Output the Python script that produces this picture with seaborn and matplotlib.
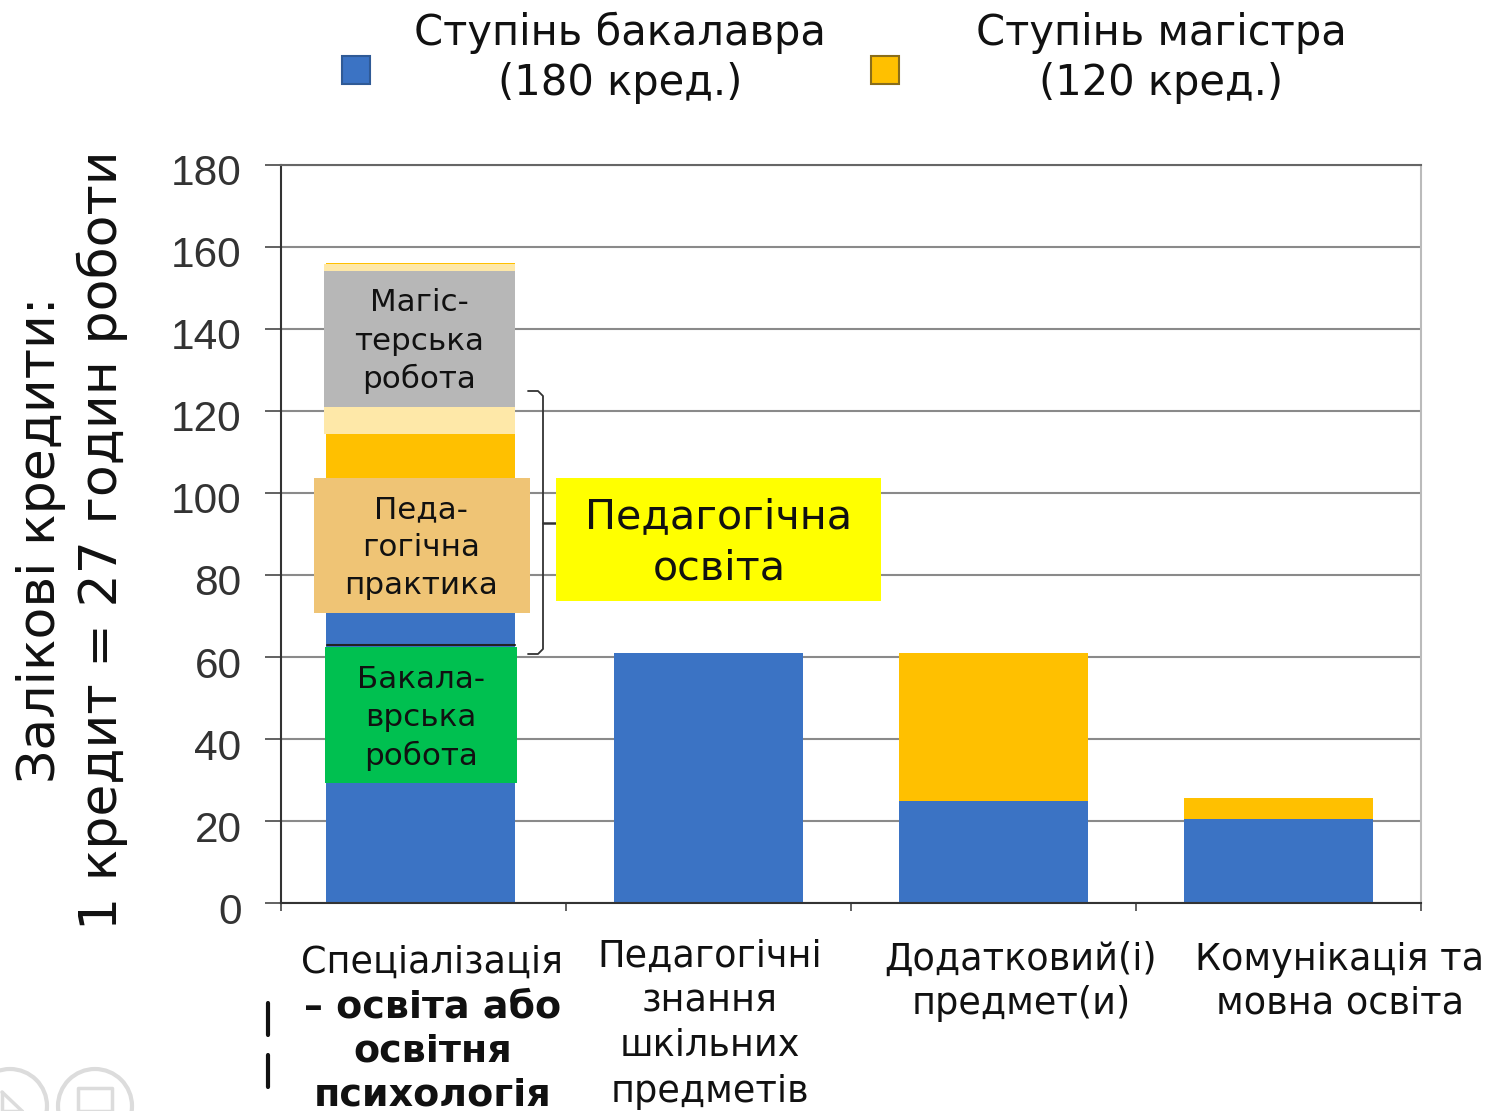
"""Залікові кредити за компонентами програми"""

import matplotlib
matplotlib.use("Agg")
import matplotlib.pyplot as plt
import pandas as pd
import seaborn as sns
from matplotlib.lines import Line2D
from matplotlib.patches import Circle, Patch, Rectangle
from matplotlib.transforms import ScaledTranslation

categories = ["Спеціалізація", "Педагогічні знання", "Додатковий(і) предмет(и)", "Комунікація та мовна освіта"]
bachelor = [75, 61, 25, 20.5]
master = [81, 0, 36, 5]
yticks = list(range(0, 181, 20))
legend_labels = ["Ступінь бакалавра\n(180 кред.)", "Ступінь магістра\n(120 кред.)"]
ylabel_text = "Залікові кредити:\n1 кредит = 27 годин роботи"

BLUE = "#3B73C4"
ORANGE = "#FFC000"
W, H = 1491, 1111

sns.set_theme(style="white")
plt.rcParams["font.family"] = ["DejaVu Sans"]

data = pd.DataFrame({"category": categories, "bachelor": bachelor, "master": master})
data["total"] = data["bachelor"] + data["master"]

fig = plt.figure(figsize=(W / 100, H / 100), dpi=100)
ax = fig.add_axes([281 / W, 1 - 903 / H, 1140 / W, 738 / H])


def fx(x):
    return x / W


def fy(y):
    return 1 - y / H


def box(x0, y0, x1, y1, color, z=3):
    fig.add_artist(Rectangle((fx(x0), fy(y1)), (x1 - x0) / W, (y1 - y0) / H, transform=fig.transFigure,
                             facecolor=color, edgecolor="none", zorder=z))


def line(xs, ys, color="#333333", lw=1.3, z=3):
    fig.add_artist(Line2D([fx(x) for x in xs], [fy(y) for y in ys], transform=fig.transFigure,
                          color=color, lw=lw, zorder=z))


def label(x, y, text, size, weight="normal", color="#111111", z=4, **kw):
    fig.text(fx(x), fy(y), text, fontsize=size, fontweight=weight, color=color, ha="center", va="center",
             zorder=z, **kw)


def add_legend(handle, text, cx, pad):
    leg = fig.legend([handle], [text], frameon=False, fontsize=30, loc="center", bbox_to_anchor=(fx(cx), fy(58)),
                     handlelength=0.67, handleheight=0.67, handletextpad=pad, labelcolor="#111111")
    for t in leg.get_texts():
        t.set_multialignment("center")
        t.set_linespacing(1.25)
    for p in leg.get_patches():
        p.set_y(p.get_y() - 7.5)


# stacked bars: totals first, then the lower part on top
sns.barplot(data=data, x="category", y="total", color=ORANGE, saturation=1, width=0.662, linewidth=0, ax=ax, zorder=2)
sns.barplot(data=data, x="category", y="bachelor", color=BLUE, saturation=1, width=0.662, linewidth=0, ax=ax, zorder=2)

# first column sits a little to the left in the original
for p in [ax.patches[0], ax.patches[4]]:
    p.set_x(p.get_x() - 0.0105)

ax.set_xlim(-0.5, 3.5)
ax.set_ylim(0, 180)
ax.set_xlabel("")
ax.set_ylabel("")
ax.set_axisbelow(True)
ax.set_yticks(yticks)
ax.set_xticks([])
ax.set_xticks([-0.5, 0.5, 1.5, 2.5, 3.5], minor=True)
ax.yaxis.grid(True, color="#8a8a8a", lw=1.5)
ax.tick_params(axis="y", length=11.5, width=1.3, color="#555555", left=True, pad=17, labelsize=30.5,
               labelcolor="#333333")
ax.tick_params(axis="x", which="minor", length=6, width=1.3, color="#555555", bottom=True)
for t in ax.get_yticklabels():
    t.set_fontfamily("Liberation Sans")
    t.set_transform(t.get_transform() + ScaledTranslation(0, -5 / 100, fig.dpi_scale_trans))

for name, color in [("left", "#333333"), ("bottom", "#333333"), ("top", "#666666"), ("right", "#bbbbbb")]:
    ax.spines[name].set_visible(True)
    ax.spines[name].set_color(color)
    ax.spines[name].set_linewidth(1.5)

# legend
add_legend(Patch(facecolor=BLUE, edgecolor="#2f5a96", lw=1.5), legend_labels[0], 584, 1.05)
add_legend(Patch(facecolor=ORANGE, edgecolor="#8a6d1a", lw=1.5), legend_labels[1], 1109, 1.85)

# y axis title
label(72, 540, ylabel_text, 37.5, rotation=90, multialignment="center", linespacing=1.26)

# overlays on the first bar
box(324, 264, 515, 434, "#FEE8A8", z=3)
box(324, 271, 515, 407, "#B7B7B7", z=3)
box(314, 478, 530, 613, "#EFC475", z=5)
line([327, 515], [645, 645], color="#222222", lw=1.5)
box(325, 647, 517, 783, "#00C050", z=3)
box(556, 478, 881, 601, "#FFFF00", z=5)

for y, s in zip([302, 341, 379], ["Магіс-", "терська", "робота"]):
    label(419, y, s, 22.3)
for y, s in zip([510, 548, 586], ["Педа-", "гогічна", "практика"]):
    label(421, y, s, 22.3, z=6)
for y, s in zip([679, 717, 756], ["Бакала-", "врська", "робота"]):
    label(421, y, s, 22.3)
for y, s in zip([517, 568], ["Педагогічна", "освіта"]):
    label(719, y, s, 29.7, z=6)

# bracket
line([528, 538, 543, 543, 538, 528], [391, 391, 396, 649, 654, 654])
line([543, 556], [523, 523], lw=1.8)

# x labels
label(432, 962, "Спеціалізація", 26.4)
for y, s in zip([1007, 1051, 1095], ["– освіта або", "освітня", "психологія"]):
    label(433, y, s, 27.4, weight="bold")
for y, s in zip([956, 1001, 1046, 1091], ["Педагогічні", "знання", "шкільних", "предметів"]):
    label(710, y, s, 26.4)
for y, s in zip([959, 1003], ["Додатковий(і)", "предмет(и)"]):
    label(1021, y, s, 26.4)
for y, s in zip([959, 1003], ["Комунікація та", "мовна освіта"]):
    label(1340, y, s, 26.4)

# stray marks and faint logos at the bottom left
line([268, 268], [1003, 1035], color="#111111", lw=3)
line([268, 268], [1055, 1087], color="#111111", lw=3)
for cx in [10, 95]:
    fig.add_artist(Circle((cx / 100, (H - 1106) / 100), 37 / 100, transform=fig.dpi_scale_trans,
                          fill=False, edgecolor="#dcdcdc", lw=3))
line([2, 2, 22], [1092, 1111, 1111], color="#dcdcdc", lw=2.5)
line([2, 22], [1092, 1111], color="#dcdcdc", lw=2.5)
line([78, 78, 112, 112, 78], [1111, 1088, 1088, 1111, 1111], color="#dcdcdc", lw=2.5)

fig.savefig("out.png", dpi=100)
